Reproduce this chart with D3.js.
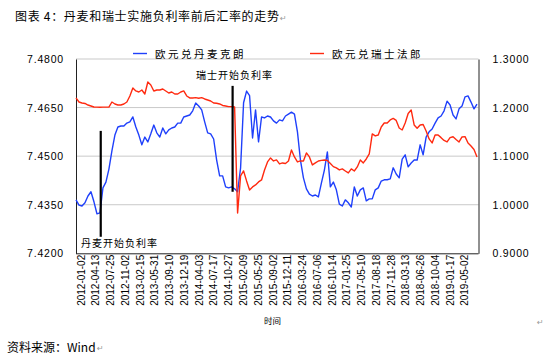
<!DOCTYPE html>
<html><head><meta charset="utf-8">
<script src="https://cdn.jsdelivr.net/npm/d3@7"></script>
<style>body{margin:0;background:#fff} svg{display:block}</style>
</head><body><svg id="c" width="544" height="360"></svg>
<script>
// ---- data ----
const STEP = 15; // trading days between samples
const dkk = [7.4365,7.4349,7.4346,7.4356,7.4377,7.4390,7.4359,7.4322,7.4325,7.4402,
 7.4420,7.4460,7.4516,7.4565,7.4590,7.4593,7.4593,7.4602,7.4606,7.4621,
 7.4590,7.4565,7.4535,7.4559,7.4544,7.4569,7.4596,7.4572,7.4559,7.4587,
 7.4569,7.4581,7.4587,7.4590,7.4602,7.4602,7.4621,7.4624,7.4627,7.4640,
 7.4664,7.4655,7.4643,7.4606,7.4572,7.4569,7.4553,7.4488,7.4439,7.4439,
 7.4405,7.4402,7.4405,7.4399,7.4390,7.4464,7.4665,7.4701,7.4687,7.4556,
 7.4643,7.4544,7.4621,7.4618,7.4624,7.4621,7.4609,7.4602,7.4612,7.4609,
 7.4624,7.4630,7.4636,7.4630,7.4575,7.4488,7.4433,7.4399,7.4383,7.4377,
 7.4380,7.4374,7.4417,7.4457,7.4513,7.4405,7.4420,7.4396,7.4352,7.4346,
 7.4365,7.4356,7.4343,7.4405,7.4377,7.4396,7.4402,7.4362,7.4368,7.4368,
 7.4396,7.4402,7.4423,7.4427,7.4427,7.4430,7.4464,7.4445,7.4433,7.4491,
 7.4504,7.4467,7.4479,7.4488,7.4488,7.4535,7.4504,7.4559,7.4575,7.4584,
 7.4602,7.4618,7.4624,7.4640,7.4670,7.4658,7.4627,7.4615,7.4646,7.4655,
 7.4683,7.4686,7.4667,7.4646,7.4661];
const chf = [1.2198,1.2115,1.2095,1.2084,1.2053,1.2033,1.2012,1.2010,1.2008,1.2010,
 1.2009,1.2010,1.2115,1.2074,1.2053,1.2053,1.2074,1.2115,1.2239,1.2403,
 1.2342,1.2321,1.2362,1.2280,1.2527,1.2465,1.2342,1.2362,1.2362,1.2383,
 1.2342,1.2300,1.2321,1.2280,1.2280,1.2321,1.2342,1.2239,1.2198,1.2198,
 1.2204,1.2191,1.2204,1.2177,1.2156,1.2136,1.2095,1.2088,1.2074,1.2043,
 1.2033,1.2019,1.2019,1.2012,0.9831,1.0593,1.0695,1.0490,1.0305,1.0366,
 1.0407,1.0469,1.0510,1.0716,1.0881,1.0963,1.0901,1.0922,1.0840,1.0860,
 1.0850,1.0901,1.1128,1.0984,1.0881,1.0901,1.0901,1.1066,1.0984,1.0819,
 1.0860,1.0901,1.0912,1.0922,1.0912,1.0850,1.0784,1.0757,1.0716,1.0737,
 1.0695,1.0654,1.0737,1.0695,1.0778,1.0922,1.0860,1.0942,1.1045,1.1457,
 1.1416,1.1436,1.1601,1.1683,1.1683,1.1745,1.1776,1.1735,1.1580,1.1539,
 1.1683,1.1879,1.1951,1.1642,1.1574,1.1642,1.1652,1.1519,1.1354,1.1272,
 1.1436,1.1436,1.1381,1.1323,1.1292,1.1381,1.1399,1.1344,1.1292,1.1395,
 1.1401,1.1272,1.1210,1.1138,1.0984];
const tickLabels = ["2012-01-02","2012-04-13","2012-07-25","2012-11-02","2013-02-15","2013-05-31",
 "2013-09-10","2013-12-19","2014-04-03","2014-07-17","2014-10-27","2015-02-09","2015-05-25",
 "2015-09-02","2015-12-11","2016-03-24","2016-07-06","2016-10-14","2017-01-25","2017-05-10",
 "2017-08-18","2017-11-28","2018-03-13","2018-06-26","2018-10-04","2019-01-17","2019-05-02"];
const TICK_EVERY = 74;
const leftTicks = [7.42, 7.435, 7.45, 7.465, 7.48];
const rightTicks = [0.9, 1.0, 1.1, 1.2, 1.3];
const seriesNames = ["欧元兑丹麦克朗", "欧元兑瑞士法郎"];
const events = [
  {label: "丹麦开始负利率", idx: 124, from: 7.4578, to: 7.4251},
  {label: "瑞士开始负利率", idx: 785, from: 7.4717, to: 7.4390}
];

// ---- layout ----
const L = 76, R = 478.5, T = 59, B = 253.3;
const BLUE = "#1f40fb", RED = "#ff2a10";
const svg = d3.select("#c");
const x = d3.scaleLinear().domain([0, (dkk.length - 1) * STEP]).range([L, 477]);
const yL = d3.scaleLinear().domain([7.42, 7.48]).range([B, T]);
const yR = d3.scaleLinear().domain([0.9, 1.3]).range([B, T]);

// title
svg.append("text").attr("x", 15).attr("y", 21).attr("font-family", "'Noto Sans CJK SC'")
  .attr("font-size", 12).attr("fill", "#000").attr("textLength", 264).attr("lengthAdjust", "spacing")
  .text("图表 4：丹麦和瑞士实施负利率前后汇率的走势");
svg.append("text").attr("x", 280).attr("y", 21).attr("font-family", "DejaVu Sans").attr("font-size", 8)
  .attr("fill", "#999").text("↵");

// gridlines
svg.append("g").selectAll("line").data(leftTicks.slice(1)).join("line")
  .attr("x1", L).attr("x2", R).attr("y1", d => yL(d)).attr("y2", d => yL(d))
  .attr("stroke", "#c9c9c9").attr("stroke-width", 1);

// axes
const axL = svg.append("g").attr("transform", `translate(${L},0)`)
  .call(d3.axisLeft(yL).tickValues(leftTicks).tickFormat(d3.format(".4f")).tickSize(0).tickPadding(12));
const axR = svg.append("g").attr("transform", `translate(${R},0)`)
  .call(d3.axisRight(yR).tickValues(rightTicks).tickFormat(d3.format(".4f")).tickSize(0).tickPadding(14));
[axL, axR].forEach(a => {
  a.select(".domain").attr("stroke", "#222").attr("stroke-width", 1);
  a.selectAll("text").attr("font-family", "'Liberation Sans', Arial").attr("font-size", 10.5)
    .attr("letter-spacing", 0.8).attr("fill", "#000").attr("dy", "0.35em");
});
const axB = svg.append("g").attr("transform", `translate(0,${B})`)
  .call(d3.axisBottom(x).tickValues(tickLabels.map((_, k) => k * TICK_EVERY))
    .tickFormat((d, k) => tickLabels[k]).tickSize(0));
axB.select(".domain").attr("stroke", "#222").attr("d", `M${L},0.5H${R}`);
axB.selectAll("text").attr("font-family", "'Liberation Sans', Arial").attr("font-size", 10)
  .attr("fill", "#000").attr("text-anchor", "end").attr("x", 0).attr("y", 0).attr("dy", 0)
  .attr("transform", "translate(8.1,1.5) rotate(-90)")
  .attr("textLength", 51).attr("lengthAdjust", "spacingAndGlyphs");

// axis title
svg.append("text").attr("x", 272.5).attr("y", 324).attr("text-anchor", "middle")
  .attr("font-family", "'Noto Sans CJK SC'").attr("font-size", 8.5).text("时间");

// lines
const lineL = d3.line().x((d, i) => x(i * STEP)).y(d => yL(d));
const lineR = d3.line().x((d, i) => x(i * STEP)).y(d => yR(d));
svg.append("path").datum(dkk).attr("d", lineL).attr("fill", "none").attr("stroke", BLUE)
  .attr("stroke-width", 1.4).attr("stroke-linejoin", "round");
svg.append("path").datum(chf).attr("d", lineR).attr("fill", "none").attr("stroke", RED)
  .attr("stroke-width", 1.4).attr("stroke-linejoin", "round");

// event markers
svg.append("g").selectAll("line").data(events).join("line")
  .attr("x1", d => x(d.idx)).attr("x2", d => x(d.idx))
  .attr("y1", d => yL(d.from)).attr("y2", d => yL(d.to))
  .attr("stroke", "#000").attr("stroke-width", 2.2);
svg.append("text").attr("x", 81).attr("y", 246.5).attr("font-family", "'Noto Sans CJK SC'")
  .attr("font-size", 10).attr("letter-spacing", 1).text(events[0].label);
svg.append("text").attr("x", 196).attr("y", 79).attr("font-family", "'Noto Sans CJK SC'")
  .attr("font-size", 10).attr("letter-spacing", 1).text(events[1].label);

// legend
const leg = [{name: seriesNames[0], c: BLUE, x: 133}, {name: seriesNames[1], c: RED, x: 310}];
const lg = svg.append("g").selectAll("g").data(leg).join("g");
lg.append("line").attr("x1", d => d.x).attr("x2", d => d.x + 14).attr("y1", 53.5).attr("y2", 53.5)
  .attr("stroke", d => d.c).attr("stroke-width", 1.4);
lg.append("text").attr("x", d => d.x + 22).attr("y", 57.5).attr("font-family", "'Noto Sans CJK SC'")
  .attr("font-size", 10.5).attr("letter-spacing", 2.5).attr("fill", "#000").text(d => d.name);

// source
svg.append("text").attr("x", 7).attr("y", 352).attr("font-family", "'Noto Sans CJK SC'")
  .attr("font-size", 12).text("资料来源：Wind");
svg.append("text").attr("x", 97).attr("y", 351).attr("font-family", "DejaVu Sans").attr("font-size", 8)
  .attr("fill", "#999").text("↵");
svg.append("text").attr("x", 537).attr("y", 325).attr("font-family", "DejaVu Sans").attr("font-size", 8)
  .attr("fill", "#999").text("↵");
</script></body></html>
